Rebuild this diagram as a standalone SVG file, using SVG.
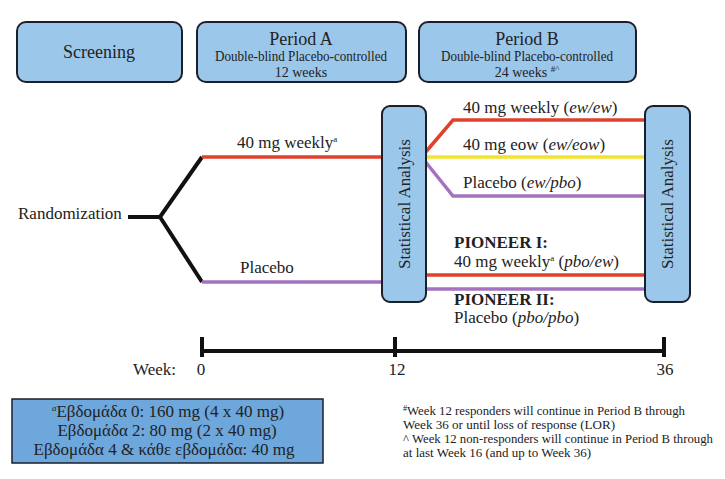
<svg xmlns="http://www.w3.org/2000/svg" width="725" height="479" viewBox="0 0 725 479">
<style>
.box{fill:#9bc7ea;stroke:#1c1f2a;stroke-width:2}
.note{fill:#6ea7dc;stroke:#1c1f2a;stroke-width:1.5}
text{font-family:"Liberation Serif","DejaVu Serif",serif;fill:#222}
.lbl{font-size:17px}
.hd{font-size:18px;text-anchor:middle}
.sub{font-size:14px;text-anchor:middle}
.fn{font-size:12.5px}
.blk{stroke:#111;stroke-width:4;fill:none}
.red{stroke:#e0402c;stroke-width:3.5;fill:none}
.yel{stroke:#f4e22c;stroke-width:3.5;fill:none}
.pur{stroke:#a472c0;stroke-width:3.5;fill:none}
</style>
<rect width="725" height="479" fill="#ffffff"/>
<g id="connectors">
<path class="blk" d="M128,217 H160 L202,157 M160,217 L202,282"/>
<path class="red" d="M202,157 H384"/>
<path class="pur" d="M202,282 H384"/>
<path class="red" d="M424,154 L453,120 H647"/>
<path class="yel" d="M424,157 H647"/>
<path class="pur" d="M424,160 L453,196 H647"/>
<path class="red" d="M424,275 H647"/>
<path class="pur" d="M424,289 H647"/>
<path class="blk" d="M202,351 H664 M202,337 V357 M395,337 V357 M664,337 V357"/>
</g>
<g id="screening"><rect class="box" x="17" y="22" width="165" height="60" rx="9"/><text class="hd" x="99" y="58">Screening</text></g>
<g id="periodA"><rect class="box" x="197" y="22" width="209" height="60" rx="9"/><text class="hd" x="301" y="45">Period A</text><text class="sub" x="301" y="61" textLength="172" lengthAdjust="spacingAndGlyphs">Double-blind Placebo-controlled</text><text class="sub" x="301" y="77">12 weeks</text></g>
<g id="periodB"><rect class="box" x="419" y="22" width="217" height="60" rx="9"/><text class="hd" x="527" y="45">Period B</text><text class="sub" x="527" y="61" textLength="172" lengthAdjust="spacingAndGlyphs">Double-blind Placebo-controlled</text><text class="sub" x="527" y="77">24 weeks <tspan font-size="9" dy="-5">#^</tspan></text></g>
<g id="randomization"><text class="lbl" x="18" y="219">Randomization</text></g>
<g id="armA-labels"><text class="lbl" x="237" y="148">40 mg weekly<tspan font-size="9" dy="-6">a</tspan></text><text class="lbl" x="240" y="273">Placebo</text></g>
<g id="stat1"><rect class="box" x="382" y="106" width="44" height="196" rx="8"/><text class="lbl" font-size="18" text-anchor="middle" transform="translate(410,204) rotate(-90)">Statistical Analysis</text></g>
<g id="stat2"><rect class="box" x="645" y="106" width="45" height="196" rx="8"/><text class="lbl" font-size="18" text-anchor="middle" transform="translate(673,204) rotate(-90)">Statistical Analysis</text></g>
<g id="armB-labels">
<text class="lbl" x="463" y="113">40 mg weekly (<tspan font-style="italic">ew/ew</tspan>)</text>
<text class="lbl" x="463" y="150">40 mg eow (<tspan font-style="italic">ew/eow</tspan>)</text>
<text class="lbl" x="463" y="188">Placebo (<tspan font-style="italic">ew/pbo</tspan>)</text>
<text class="lbl" x="454" y="248" font-weight="bold">PIONEER I:</text>
<text class="lbl" x="454" y="267">40 mg weekly<tspan font-size="9" dy="-6">a</tspan><tspan dy="6"> (</tspan><tspan font-style="italic">pbo/ew</tspan>)</text>
<text class="lbl" x="454" y="305" font-weight="bold">PIONEER II:</text>
<text class="lbl" x="454" y="323">Placebo (<tspan font-style="italic">pbo/pbo</tspan>)</text>
</g>
<g id="timeline-labels">
<text class="lbl" x="133" y="375">Week:</text>
<text class="lbl" x="201" y="375" text-anchor="middle">0</text>
<text class="lbl" x="397" y="375" text-anchor="middle">12</text>
<text class="lbl" x="665" y="375" text-anchor="middle">36</text>
</g>
<g id="dosing-note"><rect class="note" x="12" y="399" width="311" height="64"/>
<text class="lbl" x="168" y="417" text-anchor="middle" font-size="16"><tspan font-size="9" font-style="italic" dy="-6">a</tspan><tspan dy="6">Εβδομάδα 0: 160 mg (4 x 40 mg)</tspan></text>
<text class="lbl" x="167" y="436" text-anchor="middle" font-size="16">Εβδομάδα 2: 80 mg (2 x 40 mg)</text>
<text class="lbl" x="164" y="455" text-anchor="middle" font-size="16">Εβδομάδα 4 &amp; κάθε εβδομάδα: 40 mg</text>
</g>
<g id="footnotes">
<text class="fn" x="403" y="415" textLength="282" lengthAdjust="spacingAndGlyphs"><tspan font-size="8" dy="-4">#</tspan><tspan dy="4">Week 12 responders will continue in Period B through</tspan></text>
<text class="fn" x="403" y="429" textLength="212" lengthAdjust="spacingAndGlyphs">Week 36 or until loss of response (LOR)</text>
<text class="fn" x="403" y="443" textLength="310" lengthAdjust="spacingAndGlyphs">^ Week 12 non-responders will continue in Period B through</text>
<text class="fn" x="403" y="457" textLength="188" lengthAdjust="spacingAndGlyphs">at last Week 16 (and up to Week 36)</text>
</g>
</svg>
